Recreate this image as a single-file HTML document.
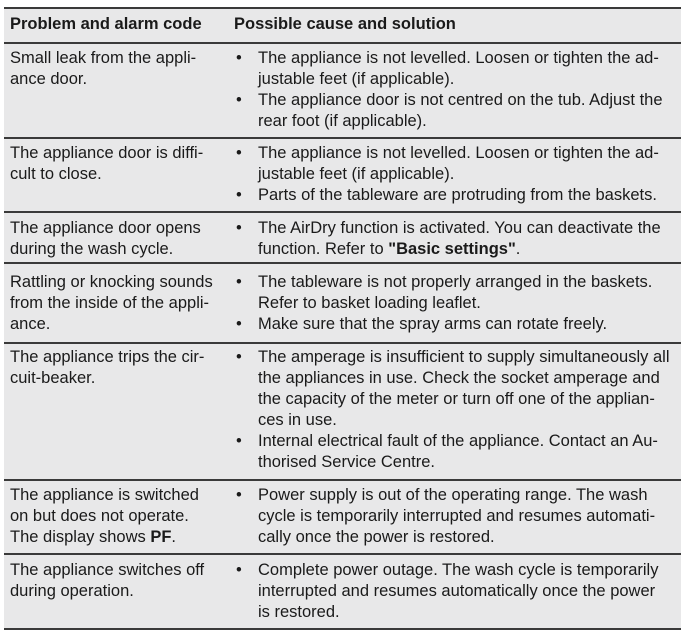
<!DOCTYPE html>
<html><head><meta charset="utf-8"><style>
body{margin:0;width:685px;height:634px;background:#fff;position:relative;overflow:hidden;font-family:"Liberation Sans",Arial,sans-serif;color:#1a1a1a;}
.tbl{position:absolute;left:4px;top:8px;width:677px;height:621px;background:#e8e8e9;}
.h{position:absolute;left:0;width:100%;background:#3a3a3a;}
.t{position:absolute;white-space:nowrap;font-size:16.5px;line-height:21px;}
.b{font-weight:bold;}
</style></head><body>
<div class="tbl"></div>
<div class="h" style="left:4px;width:677px;top:7px;height:2px"></div>
<div class="h" style="left:4px;width:677px;top:42px;height:2px"></div>
<div class="h" style="left:4px;width:677px;top:137px;height:2px"></div>
<div class="h" style="left:4px;width:677px;top:211px;height:2px"></div>
<div class="h" style="left:4px;width:677px;top:262px;height:2px"></div>
<div class="h" style="left:4px;width:677px;top:342px;height:2px"></div>
<div class="h" style="left:4px;width:677px;top:479px;height:2px"></div>
<div class="h" style="left:4px;width:677px;top:553px;height:2px"></div>
<div class="h" style="left:4px;width:677px;top:628px;height:2px"></div>

<div class="t b" style="left:10px;top:14px">Problem and alarm code</div>
<div class="t b" style="left:234px;top:14px">Possible cause and solution</div>

<div class="t" style="left:10px;top:48px">Small leak from the appli-<br>ance door.</div>
<div class="t" style="left:236px;top:48px">•</div>
<div class="t" style="left:258px;top:48px">The appliance is not levelled. Loosen or tighten the ad-<br>justable feet (if applicable).</div>
<div class="t" style="left:236px;top:90px">•</div>
<div class="t" style="left:258px;top:90px">The appliance door is not centred on the tub. Adjust the<br>rear foot (if applicable).</div>

<div class="t" style="left:10px;top:143px">The appliance door is diffi-<br>cult to close.</div>
<div class="t" style="left:236px;top:143px">•</div>
<div class="t" style="left:258px;top:143px">The appliance is not levelled. Loosen or tighten the ad-<br>justable feet (if applicable).</div>
<div class="t" style="left:236px;top:185px">•</div>
<div class="t" style="left:258px;top:185px">Parts of the tableware are protruding from the baskets.</div>

<div class="t" style="left:10px;top:218px">The appliance door opens<br>during the wash cycle.</div>
<div class="t" style="left:236px;top:218px">•</div>
<div class="t" style="left:258px;top:218px">The AirDry function is activated. You can deactivate the<br>function. Refer to <span class="b">"Basic settings"</span>.</div>

<div class="t" style="left:10px;top:272px">Rattling or knocking sounds<br>from the inside of the appli-<br>ance.</div>
<div class="t" style="left:236px;top:272px">•</div>
<div class="t" style="left:258px;top:272px">The tableware is not properly arranged in the baskets.<br>Refer to basket loading leaflet.</div>
<div class="t" style="left:236px;top:314px">•</div>
<div class="t" style="left:258px;top:314px">Make sure that the spray arms can rotate freely.</div>

<div class="t" style="left:10px;top:347px">The appliance trips the cir-<br>cuit-beaker.</div>
<div class="t" style="left:236px;top:347px">•</div>
<div class="t" style="left:258px;top:347px">The amperage is insufficient to supply simultaneously all<br>the appliances in use. Check the socket amperage and<br>the capacity of the meter or turn off one of the applian-<br>ces in use.</div>
<div class="t" style="left:236px;top:431px">•</div>
<div class="t" style="left:258px;top:431px">Internal electrical fault of the appliance. Contact an Au-<br>thorised Service Centre.</div>

<div class="t" style="left:10px;top:485px">The appliance is switched<br>on but does not operate.<br>The display shows <span class="b">PF</span>.</div>
<div class="t" style="left:236px;top:485px">•</div>
<div class="t" style="left:258px;top:485px">Power supply is out of the operating range. The wash<br>cycle is temporarily interrupted and resumes automati-<br>cally once the power is restored.</div>

<div class="t" style="left:10px;top:560px">The appliance switches off<br>during operation.</div>
<div class="t" style="left:236px;top:560px">•</div>
<div class="t" style="left:258px;top:560px">Complete power outage. The wash cycle is temporarily<br>interrupted and resumes automatically once the power<br>is restored.</div>
</body></html>
